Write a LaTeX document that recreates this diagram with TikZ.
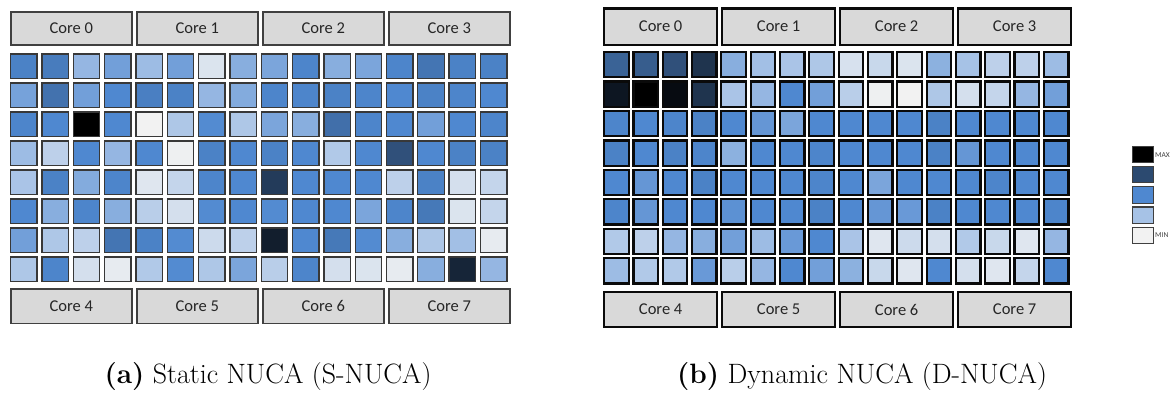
\documentclass[tikz,border=0pt]{standalone}
\usepackage{fontspec}
\newfontfamily\corefont{Carlito}

% heat scale: min -> light -> medium -> dark -> max
\definecolor{lvA}{HTML}{F2F2F2}
\definecolor{lvB}{HTML}{A6C2E6}
\definecolor{lvC}{HTML}{4F88D0}
\definecolor{lvD}{HTML}{2C4A70}
\definecolor{lvE}{HTML}{000000}
\definecolor{corefill}{HTML}{D9D9D9}
\definecolor{edgeL}{HTML}{383838}
\definecolor{edgeCoreL}{HTML}{404040}
\definecolor{edgeR}{HTML}{0A0A0A}

% set colour "cf" from a heat value in [0,4]
\newcommand\heatcolor[1]{%
  \pgfmathtruncatemacro\lvl{min(floor(#1),3)}%
  \pgfmathtruncatemacro\pct{round(100*(#1-\lvl))}%
  \ifcase\lvl
    \colorlet{cf}{lvB!\pct!lvA}%
  \or
    \colorlet{cf}{lvC!\pct!lvB}%
  \or
    \colorlet{cf}{lvD!\pct!lvC}%
  \or
    \colorlet{cf}{lvE!\pct!lvD}%
  \fi}

\tikzset{
  cellL/.style={draw=edgeL, line width=1.3pt, fill=cf},
  cellR/.style={draw=edgeR, line width=2.2pt, fill=cf},
  coreL/.style={draw=edgeCoreL, line width=1.8pt, fill=corefill, inner sep=0pt,
    font=\corefont\fontsize{16.5}{18}\selectfont, text=black!85},
  coreR/.style={draw=edgeR, line width=2.2pt, fill=corefill, inner sep=0pt,
    font=\corefont\fontsize{16.5}{18}\selectfont, text=black!85},
  legbox/.style={draw=edgeCoreL, line width=1.2pt},
  legtext/.style={font=\corefont\fontsize{7.5}{8}\selectfont, text=black!75, inner sep=0pt, anchor=west},
  caption/.style={font=\fontsize{28}{30}\selectfont, anchor=base, inner sep=0pt}
}

\begin{document}
\begin{tikzpicture}[x=1pt, y=-1pt]
\useasboundingbox[fill=white] (0,0) rectangle (1171,394);

% ---------------- (a) static mapping ----------------
\foreach \i in {0,1,2,3}{
  \pgfmathsetmacro\cx{10+126*\i+61.35}
  \pgfmathtruncatemacro\top{\i}
  \pgfmathtruncatemacro\bot{\i+4}
  \node[coreL, minimum width=120.9pt, minimum height=32.7pt] (sa-core\top) at (\cx,28.25) {Core \top};
  \node[coreL, minimum width=120.9pt, minimum height=34.2pt] (sa-core\bot) at (\cx,306.3) {Core \bot};
}
\foreach \row [count=\r from 0] in {
  {2.1,2.2,1.2,1.6,1.1,1.6,0.3,1.35,1.5,2.05,1.35,1.5,2.05,2.3,2.1,2.1},
  {1.55,2.35,1.6,2.0,2.15,2.1,1.2,1.4,2.05,2.05,2.1,2.05,2.0,2.1,2.05,2.0},
  {2.05,2.0,4,2.0,0,0.9,1.95,0.9,1.5,1.35,2.4,2.05,2.0,1.6,2.0,2.05},
  {1.1,0.7,2.0,1.2,2.0,0.05,2.1,2.0,2.1,2.0,0.85,2.0,2.9,2.0,2.1,2.1},
  {0.95,2.1,1.4,2.05,0.25,0.6,2.05,2.0,3.2,2.0,2.0,2.0,0.7,2.1,0.4,0.6},
  {2.0,1.35,2.05,1.35,0.75,0.4,1.95,2.0,1.95,2.0,2.0,1.5,2.05,2.25,0.3,0.6},
  {1.6,0.9,0.7,2.3,2.1,1.95,0.5,0.7,3.6,2.0,2.25,1.95,1.35,0.9,1.05,0.15},
  {0.9,2.05,0.4,0.15,0.85,1.95,0.9,1.5,0.75,2.05,0.4,0.3,0.15,1.35,3.5,1.2}}{
  \foreach \v [count=\c from 0] in \row {
    \heatcolor{\v}
    \pgfmathsetmacro\xa{10+31.32*\c+0.65}
    \pgfmathsetmacro\ya{53.3+29*\r+0.65}
    \path[cellL] (\xa,\ya) rectangle ++(26.4,24.4);
  }
}

% ---------------- (b) dynamic mapping ----------------
\foreach \i in {0,1,2,3}{
  \pgfmathsetmacro\cx{603+118*\i+57.65}
  \pgfmathtruncatemacro\top{\i}
  \pgfmathtruncatemacro\bot{\i+4}
  \node[coreR, minimum width=113.1pt, minimum height=36.2pt] (da-core\top) at (\cx,26.5) {Core \top};
  \node[coreR, minimum width=113.1pt, minimum height=35.4pt] (da-core\bot) at (\cx,309.5) {Core \bot};
}
\foreach \row [count=\r from 0] in {
  {2.6,2.7,2.9,3.3,1.35,1.05,0.95,0.9,0.35,0.55,0.3,1.3,1.0,0.7,0.7,1.1},
  {3.7,4,3.85,3.3,0.95,1.2,2.0,1.6,0.75,0.05,0,0.9,0.4,0.6,1.2,1.6},
  {2.05,2.0,2.05,2.1,2.0,1.75,1.5,2.0,2.0,2.0,2.0,2.1,2.0,2.0,2.0,2.0},
  {2.1,2.0,2.1,2.05,1.3,2.0,2.0,2.05,2.0,2.0,2.0,2.1,1.75,2.0,2.0,2.0},
  {2.0,1.75,2.0,2.1,2.0,2.0,2.0,2.05,2.0,1.5,2.0,2.0,2.0,2.05,2.0,2.0},
  {2.05,1.75,2.0,2.0,1.85,2.0,2.0,2.1,2.0,1.75,1.7,2.1,2.0,2.0,2.0,2.05},
  {0.85,0.7,1.2,1.35,1.6,1.1,1.7,2.0,0.95,0.25,0.5,0.4,0.85,0.55,0.25,1.2},
  {1.1,0.85,0.85,1.7,0.75,1.2,2.0,1.6,1.3,0.55,0.25,2.0,0.4,0.25,0.6,2.0}}{
  \foreach \v [count=\c from 0] in \row {
    \heatcolor{\v}
    \pgfmathsetmacro\xa{603+29.32*\c+1.1}
    \pgfmathsetmacro\ya{51+29.45*\r+1.1}
    \path[cellR] (\xa,\ya) rectangle ++(24.5,25.2);
  }
}

% ---------------- legend ----------------
\foreach \col [count=\k from 0] in {lvE,lvD,lvC,lvB,lvA}{
  \pgfmathsetmacro\ya{145.7+20.25*\k+0.6}
  \path[legbox, fill=\col] (1132.3,\ya) rectangle ++(21.1,16.3);
}
\node[legtext] (leg-max) at (1155,155) {MAX};
\node[legtext] (leg-min) at (1155,235.5) {MIN};

% ---------------- captions ----------------
\node[caption] (cap-a) at (268,383) {\textbf{(a)} Static NUCA (S-NUCA)};
\node[caption] (cap-b) at (862,383) {\textbf{(b)} Dynamic NUCA (D-NUCA)};
\end{tikzpicture}
\end{document}
